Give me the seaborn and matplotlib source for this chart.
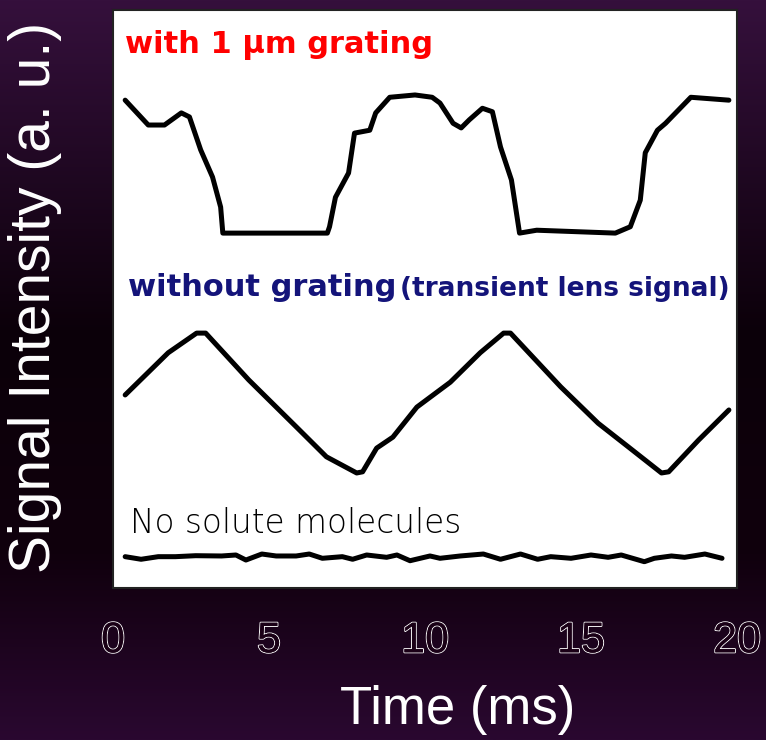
import numpy as np
import pandas as pd
import matplotlib
matplotlib.use("Agg")
import matplotlib.pyplot as plt
import matplotlib.patheffects as pe
from matplotlib.colors import LinearSegmentedColormap
import seaborn as sns

# data (time in ms, signal in arbitrary units 0-100)
grating_t = [0.39, 1.13, 1.65, 2.19, 2.45, 2.81, 3.19, 3.45, 3.52, 6.87, 6.94, 7.13,
             7.55, 7.74, 8.23, 8.42, 8.87, 9.68, 10.23, 10.48, 10.90, 11.16, 11.42,
             11.84, 12.16, 12.42, 12.77, 13.03, 13.58, 16.10, 16.58, 16.90, 17.06,
             17.45, 17.71, 18.52, 19.74]
grating_v = [84.4, 80.1, 80.1, 82.2, 81.5, 75.8, 71.1, 65.9, 61.4, 61.4, 62.5, 67.6,
             71.8, 78.7, 79.2, 82.2, 84.9, 85.3, 84.9, 83.9, 80.4, 79.6, 81.0,
             83.0, 82.4, 76.3, 70.6, 61.4, 61.9, 61.4, 62.5, 67.1, 75.3,
             79.2, 80.4, 84.9, 84.4]

lens_t = [0.39, 1.77, 2.68, 2.97, 4.35, 5.87, 6.84, 7.81, 8.00, 8.45, 8.97, 9.74,
          10.81, 11.77, 12.52, 12.74, 14.35, 15.55, 16.52, 17.58, 17.81, 18.77, 19.74]
lens_v = [33.4, 40.7, 44.1, 44.1, 36.0, 27.9, 22.7, 19.9, 20.1, 24.2, 26.1, 31.3,
          35.6, 40.7, 44.1, 44.1, 34.8, 28.5, 24.4, 19.9, 20.1, 25.6, 30.8]

blank_t = [0.39, 0.90, 1.45, 2.00, 2.65, 3.48, 3.94, 4.26, 4.77, 5.23, 5.87, 6.29,
           6.71, 7.35, 7.68, 8.13, 8.77, 9.10, 9.52, 10.16, 10.48, 11.13, 11.87,
           12.42, 13.06, 13.61, 14.03, 14.68, 15.32, 15.87, 16.29, 17.03, 17.35,
           17.90, 18.32, 18.97, 19.52]
blank_v = [5.42, 4.97, 5.42, 5.42, 5.59, 5.54, 5.71, 4.84, 5.88, 5.54, 5.54, 5.88,
           5.14, 5.42, 4.97, 5.71, 5.31, 5.71, 4.72, 5.54, 5.14, 5.54, 5.88,
           4.97, 5.88, 4.97, 5.42, 5.14, 5.71, 5.31, 5.71, 4.55, 5.14,
           5.54, 5.31, 5.88, 5.14]

x_ticks = [0, 5, 10, 15, 20]

sns.set_style("white")

fig = plt.figure(figsize=(7.66, 7.40), dpi=100)

# dark purple gradient background
bg = fig.add_axes([0, 0, 1, 1], zorder=-5)
cmap = LinearSegmentedColormap.from_list(
    "bg", [(0.0, "#35103c"), (0.45, "#0b0009"), (0.75, "#10000d"), (1.0, "#2a0830")])
grad = np.linspace(0, 1, 256).reshape(-1, 1)
bg.imshow(grad, aspect="auto", cmap=cmap, extent=[0, 1, 0, 1])
bg.set_axis_off()

ax = fig.add_axes([113 / 766, 1 - 588 / 740, 624 / 766, 578 / 740])
ax.set_facecolor("white")

for t, v in [(grating_t, grating_v), (lens_t, lens_v), (blank_t, blank_v)]:
    sns.lineplot(x=t, y=v, ax=ax, color="black", linewidth=3.6, estimator=None,
                 sort=False)

ax.set_xlim(0, 20)
ax.set_ylim(0, 100)
ax.set_xticks(x_ticks)
ax.set_yticks([])
ax.tick_params(axis="x", length=0, pad=24)
for lab in ax.get_xticklabels():
    lab.set_family("Liberation Sans")
    lab.set_fontsize(31)
    lab.set_color("#1a0016")
    lab.set_path_effects([pe.withStroke(linewidth=1.4, foreground="white"), pe.Normal()])

for sp in ax.spines.values():
    sp.set_color("#222222")
    sp.set_linewidth(1.5)

ax.text(0.38, 92.6, "with 1 \u03bcm grating", color="#ff0000", fontsize=22,
        fontweight="bold", va="baseline", family="DejaVu Sans")
ax.text(0.48, 50.5, "without grating", color="#14147a", fontsize=22,
        fontweight="bold", va="baseline", family="DejaVu Sans")
ax.text(9.2, 50.5, "(transient lens signal)", color="#14147a", fontsize=19,
        fontweight="bold", va="baseline", family="DejaVu Sans")
ax.text(0.54, 9.5, "No solute molecules", color="black", fontsize=23.5,
        va="baseline", family="DejaVu Sans", fontweight="light")

ax.set_xlabel("Time (ms)", color="white", fontsize=38, family="Liberation Sans")
ax.xaxis.label.set_va("center")
ax.xaxis.set_label_coords((458 - 113) / 624, (588 - 710) / 578)
ax.set_ylabel("Signal Intensity (a. u.)", color="white", fontsize=41,
              family="Liberation Sans")
ax.yaxis.label.set_va("center")
ax.yaxis.set_label_coords((35 - 113) / 624, (588 - 297) / 578)

fig.savefig("out.png", dpi=100)
